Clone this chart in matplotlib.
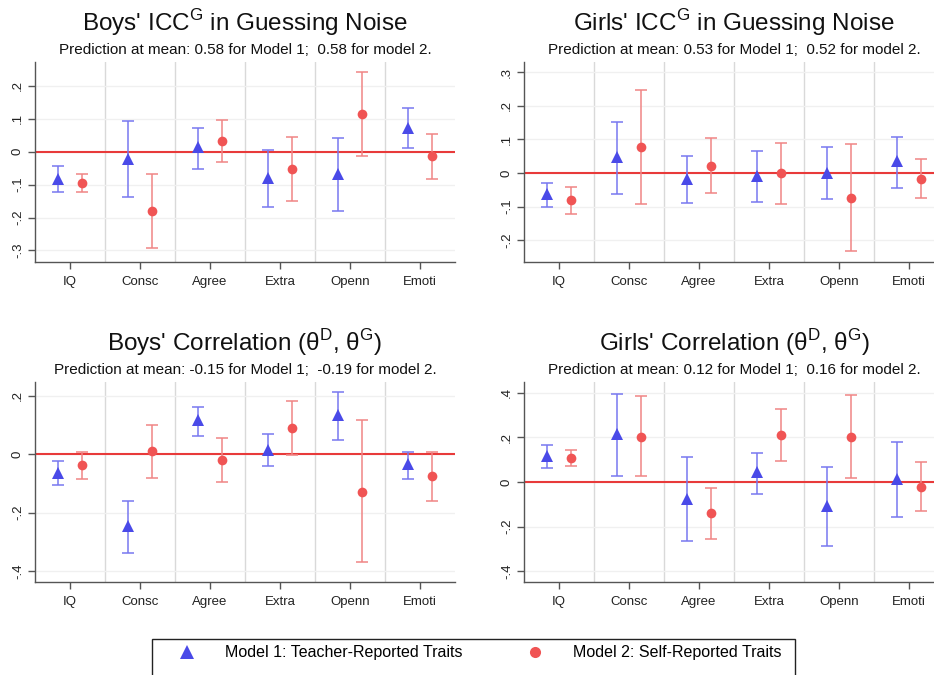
import matplotlib
matplotlib.use('Agg')
import matplotlib.pyplot as plt
from matplotlib.lines import Line2D
from matplotlib.patches import Rectangle

plt.rcParams['font.family'] = ['Liberation Sans', 'DejaVu Sans']
plt.rcParams['mathtext.fontset'] = 'custom'
plt.rcParams['mathtext.rm'] = 'Liberation Sans'

traits = ['IQ', 'Consc', 'Agree', 'Extra', 'Openn', 'Emoti']

# Boys' ICC in guessing noise
boys_icc_m1 = [-0.084, -0.023, 0.014, -0.079, -0.068, 0.073]
boys_icc_m1_lo = [-0.124, -0.139, -0.053, -0.167, -0.180, 0.010]
boys_icc_m1_hi = [-0.043, 0.093, 0.071, 0.005, 0.041, 0.131]
boys_icc_m2 = [-0.095, -0.181, 0.031, -0.054, 0.113, -0.014]
boys_icc_m2_lo = [-0.124, -0.293, -0.032, -0.149, -0.012, -0.083]
boys_icc_m2_hi = [-0.067, -0.068, 0.096, 0.044, 0.241, 0.054]

# Girls' ICC in guessing noise
girls_icc_m1 = [-0.064, 0.048, -0.017, -0.008, 0.001, 0.034]
girls_icc_m1_lo = [-0.102, -0.064, -0.088, -0.086, -0.078, -0.045]
girls_icc_m1_hi = [-0.030, 0.152, 0.050, 0.064, 0.077, 0.107]
girls_icc_m2 = [-0.082, 0.077, 0.022, -0.001, -0.074, -0.017]
girls_icc_m2_lo = [-0.121, -0.091, -0.059, -0.091, -0.232, -0.074]
girls_icc_m2_hi = [-0.043, 0.246, 0.103, 0.089, 0.085, 0.040]

# Boys' correlation
boys_cor_m1 = [-0.063, -0.247, 0.117, 0.016, 0.134, -0.034]
boys_cor_m1_lo = [-0.107, -0.337, 0.063, -0.039, 0.049, -0.085]
boys_cor_m1_hi = [-0.022, -0.161, 0.163, 0.070, 0.213, 0.009]
boys_cor_m2 = [-0.038, 0.013, -0.021, 0.089, -0.128, -0.075]
boys_cor_m2_lo = [-0.083, -0.080, -0.096, -0.003, -0.371, -0.161]
boys_cor_m2_hi = [0.008, 0.102, 0.056, 0.184, 0.117, 0.007]

# Girls' correlation
girls_cor_m1 = [0.116, 0.216, -0.076, 0.043, -0.107, 0.012]
girls_cor_m1_lo = [0.061, 0.028, -0.266, -0.052, -0.287, -0.158]
girls_cor_m1_hi = [0.167, 0.396, 0.112, 0.131, 0.069, 0.178]
girls_cor_m2 = [0.106, 0.203, -0.140, 0.212, 0.203, -0.021]
girls_cor_m2_lo = [0.070, 0.025, -0.254, 0.093, 0.018, -0.131]
girls_cor_m2_hi = [0.145, 0.384, -0.028, 0.330, 0.390, 0.090]

titles = [r"Boys' ICC$^{\mathrm{G}}$ in Guessing Noise",
          r"Girls' ICC$^{\mathrm{G}}$ in Guessing Noise",
          r"Boys' Correlation (θ$^{\mathrm{D}}$, θ$^{\mathrm{G}}$)",
          r"Girls' Correlation (θ$^{\mathrm{D}}$, θ$^{\mathrm{G}}$)"]
subtitles = ['Prediction at mean: 0.58 for Model 1;  0.58 for model 2.',
             'Prediction at mean: 0.53 for Model 1;  0.52 for model 2.',
             'Prediction at mean: -0.15 for Model 1;  -0.19 for model 2.',
             'Prediction at mean: 0.12 for Model 1;  0.16 for model 2.']
yticks = [[-0.3, -0.2, -0.1, 0, 0.1, 0.2],
          [-0.2, -0.1, 0, 0.1, 0.2, 0.3],
          [-0.4, -0.2, 0, 0.2],
          [-0.4, -0.2, 0, 0.2, 0.4]]
yticklabels = [['-.3', '-.2', '-.1', '0', '.1', '.2'],
               ['-.2', '-.1', '0', '.1', '.2', '.3'],
               ['-.4', '-.2', '0', '.2'],
               ['-.4', '-.2', '0', '.2', '.4']]
ylims = [(-0.335, 0.272), (-0.265, 0.33), (-0.438, 0.248), (-0.449, 0.449)]

panels = [
    (boys_icc_m1, boys_icc_m1_lo, boys_icc_m1_hi, boys_icc_m2, boys_icc_m2_lo, boys_icc_m2_hi),
    (girls_icc_m1, girls_icc_m1_lo, girls_icc_m1_hi, girls_icc_m2, girls_icc_m2_lo, girls_icc_m2_hi),
    (boys_cor_m1, boys_cor_m1_lo, boys_cor_m1_hi, boys_cor_m2, boys_cor_m2_lo, boys_cor_m2_hi),
    (girls_cor_m1, girls_cor_m1_lo, girls_cor_m1_hi, girls_cor_m2, girls_cor_m2_lo, girls_cor_m2_hi),
]

blue = '#4a4ae8'
blue_bar = '#7878f0'
red = '#f05454'
red_bar = '#f08585'
zero_red = '#e83a3a'

W, H = 934, 675
fig = plt.figure(figsize=(W / 100, H / 100), dpi=100)

# left, top (pixels) of each axes; width 420, height 200
positions = [(35, 62), (524, 62), (35, 382), (524, 382)]
ax_w, ax_h = 420, 200

x = list(range(len(traits)))
off = 1 / 6

for i, (m1, lo1, hi1, m2, lo2, hi2) in enumerate(panels):
    left, top = positions[i]
    ax = fig.add_axes([left / W, 1 - (top + ax_h) / H, ax_w / W, ax_h / H])

    for s in range(len(traits) - 1):
        ax.axvline(s + 0.5, color='#d9d9d9', lw=1, zorder=0)
    for t in yticks[i]:
        ax.axhline(t, color='#f0f0f0', lw=1, zorder=0)
    ax.axhline(0, color=zero_red, lw=1.5, zorder=1)

    x1 = [v - off for v in x]
    x2 = [v + off for v in x]
    err1 = [[m - l for m, l in zip(m1, lo1)], [h - m for m, h in zip(m1, hi1)]]
    err2 = [[m - l for m, l in zip(m2, lo2)], [h - m for m, h in zip(m2, hi2)]]
    ax.errorbar(x1, m1, yerr=err1, fmt='none', ecolor=blue_bar, elinewidth=1.1,
                capsize=4, capthick=1.1, zorder=2)
    ax.errorbar(x2, m2, yerr=err2, fmt='none', ecolor=red_bar, elinewidth=1.1,
                capsize=4, capthick=1.1, zorder=2)
    ax.plot(x1, m1, '^', color=blue, ms=8.5, mew=0, zorder=3)
    ax.plot(x2, m2, 'o', color=red, ms=7, mew=0, zorder=3)

    ax.set_xlim(-0.5, 5.5)
    ax.set_ylim(*ylims[i])
    ax.set_xticks(x)
    ax.set_xticklabels(traits, fontsize=9.5, color='#222222')
    ax.set_yticks(yticks[i])
    ax.set_yticklabels(yticklabels[i], fontsize=9.5, rotation=90, va='center',
                       color='#222222')
    ax.tick_params(axis='both', direction='out', length=5, width=1, color='#555555')
    ax.tick_params(axis='x', pad=5)
    ax.tick_params(axis='y', pad=3)
    for side in ['top', 'right']:
        ax.spines[side].set_visible(False)
    for side in ['left', 'bottom']:
        ax.spines[side].set_color('#555555')
        ax.spines[side].set_linewidth(1)

    ax.text(0.5, 1.195, titles[i], transform=ax.transAxes, ha='center', va='center',
            fontsize=17.5, color='#111111')
    ax.text(0.5, 1.06, subtitles[i], transform=ax.transAxes, ha='center', va='center',
            fontsize=11, color='#111111')

# legend
fig.patches.append(Rectangle((152 / W, -0.05), (795 - 152) / W, 0.05 + 1 - 639 / H,
                             transform=fig.transFigure, fill=False, ec='#222222', lw=1))
handles = [Line2D([], [], marker='^', ls='none', color=blue, ms=10, mew=0),
           Line2D([], [], marker='o', ls='none', color=red, ms=8, mew=0)]
fig.legend(handles, ['Model 1: Teacher-Reported Traits', 'Model 2: Self-Reported Traits'],
           loc='center left', bbox_to_anchor=(179 / W, 1 - 653 / H), ncol=2, frameon=False,
           fontsize=11.5, handlelength=1.0, handletextpad=1.9, columnspacing=4.0,
           borderpad=0, borderaxespad=0)

fig.savefig('out.png', dpi=100)
